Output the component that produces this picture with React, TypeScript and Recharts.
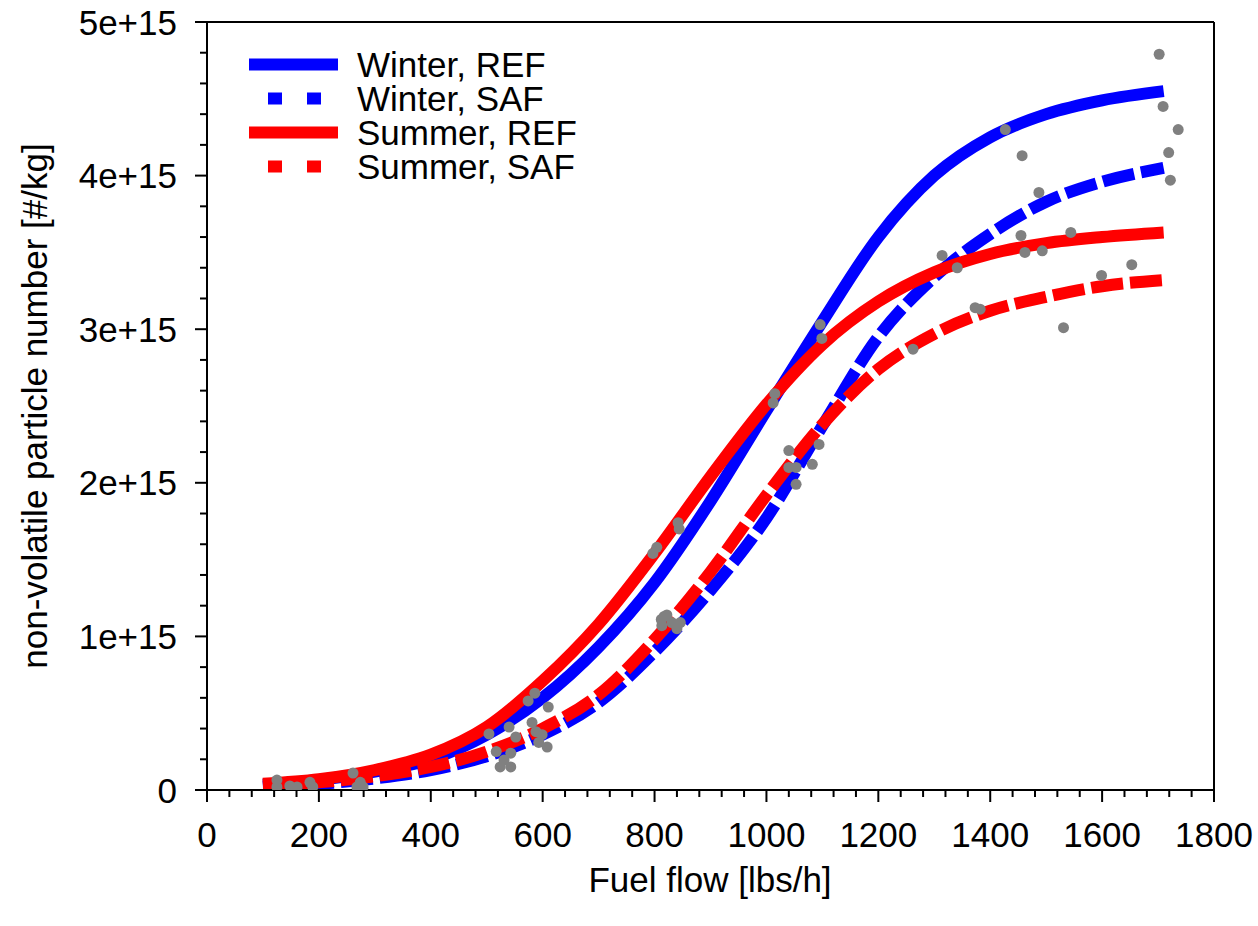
import React from 'react';
import { ComposedChart, Line, Scatter, XAxis, YAxis, ReferenceLine } from 'recharts';

const FONT = '"Liberation Sans", Arial, Helvetica, sans-serif';

// Fuel flow [lbs/h] at which the fitted curves are read
const fuelFlow = [100, 200, 300, 400, 500, 600, 700, 800, 900, 1000, 1100, 1200, 1300, 1400, 1500, 1600, 1710];
// nvPM number, units of 1e15 #/kg
const winterRef = [0.035, 0.065, 0.12, 0.2, 0.36, 0.6, 0.93, 1.35, 1.88, 2.47, 3.05, 3.6, 4.0, 4.25, 4.4, 4.49, 4.55];
const winterSaf = [0.02, 0.04, 0.075, 0.13, 0.22, 0.36, 0.57, 0.9, 1.3, 1.77, 2.37, 2.95, 3.34, 3.62, 3.83, 3.96, 4.05];
const summerRef = [0.04, 0.07, 0.13, 0.23, 0.41, 0.71, 1.08, 1.54, 2.04, 2.51, 2.9, 3.18, 3.37, 3.49, 3.56, 3.6, 3.63];
const summerSaf = [0.03, 0.05, 0.09, 0.15, 0.25, 0.4, 0.62, 0.98, 1.42, 1.92, 2.38, 2.74, 2.97, 3.12, 3.21, 3.28, 3.32];

// measured points
const measuredFlow = [
  125, 125, 148, 161, 184, 189, 261, 268, 274, 279,
  504, 540, 552, 517, 543, 524, 531, 543, 574, 586, 610, 581, 588, 599, 593, 608,
  797, 804, 842, 844, 812, 817, 822, 831, 840, 846, 813,
  1015, 1012, 1040, 1040, 1053, 1082, 1094, 1053, 1096, 1099,
  1262, 1314, 1341, 1373, 1382,
  1427, 1457, 1487, 1455, 1462, 1493, 1544, 1599, 1653, 1531,
  1702, 1709, 1736, 1719, 1722,
];
const measuredNvpm = [
  0.065, 0.02, 0.026, 0.02, 0.05, 0.02, 0.11, 0.02, 0.05, 0.02,
  0.365, 0.41, 0.345, 0.25, 0.24, 0.15, 0.195, 0.15, 0.58, 0.63, 0.54, 0.44, 0.38, 0.36, 0.31, 0.28,
  1.54, 1.58, 1.74, 1.7, 1.11, 1.13, 1.14, 1.09, 1.05, 1.09, 1.07,
  2.58, 2.52, 2.21, 2.1, 2.1, 2.12, 2.25, 1.99, 3.03, 2.94,
  2.87, 3.48, 3.4, 3.14, 3.13,
  4.3, 4.13, 3.89, 3.61, 3.5, 3.51, 3.63, 3.35, 3.42, 3.01,
  4.79, 4.45, 4.3, 4.15, 3.97,
];

const xMajorTicks = [0, 200, 400, 600, 800, 1000, 1200, 1400, 1600, 1800];
const yMajorTicks = [0, 1, 2, 3, 4, 5];
const yTickLabels = ['0', '1e+15', '2e+15', '3e+15', '4e+15', '5e+15'];
const xAxisTitle = 'Fuel flow [lbs/h]';
const yAxisTitle = 'non-volatile particle number [#/kg]';

const legendItems = [
  { name: 'Winter, REF', color: '#0000ff', dashed: false },
  { name: 'Winter, SAF', color: '#0000ff', dashed: true },
  { name: 'Summer, REF', color: '#ff0000', dashed: false },
  { name: 'Summer, SAF', color: '#ff0000', dashed: true },
];

const xTicks = Array.from({ length: 46 }, (_, i) => i * 40);
const yTicks = Array.from({ length: 26 }, (_, i) => Math.round(i * 2) / 10);

const curveData = fuelFlow.map((x, i) => ({
  x,
  winterRef: winterRef[i],
  winterSaf: winterSaf[i],
  summerRef: summerRef[i],
  summerSaf: summerSaf[i],
}));
const pointData = measuredFlow.map((x, i) => ({ x, y: measuredNvpm[i] }));

const XTick = (props: any) => {
  const { x, y, payload } = props;
  const v = payload.value;
  const major = xMajorTicks.includes(v);
  return (
    <g>
      <line x1={x} y1={y} x2={x} y2={y + (major ? 12 : 7)} stroke="#000" strokeWidth={2} />
      {major && (
        <text x={x} y={y + 57} textAnchor="middle" fontSize={35} fontFamily={FONT} fill="#000">
          {v}
        </text>
      )}
    </g>
  );
};

const YTick = (props: any) => {
  const { x, y, payload } = props;
  const v = payload.value;
  const idx = yMajorTicks.findIndex((m) => Math.abs(m - v) < 1e-6);
  const major = idx >= 0;
  return (
    <g>
      <line x1={x} y1={y} x2={x - (major ? 12 : 7)} y2={y} stroke="#000" strokeWidth={2} />
      {major && (
        <text x={x - 30} y={y + 12.5} textAnchor="end" fontSize={35} fontFamily={FONT} fill="#000">
          {yTickLabels[idx]}
        </text>
      )}
    </g>
  );
};

const Dot = (p: any) => <circle cx={p.cx} cy={p.cy} r={5.5} fill="#808080" />;

export default function App() {
  return (
    <div style={{ position: 'absolute', left: 0, top: 0, width: 1258, height: 926, background: '#fff' }}>
      <ComposedChart
        width={1258}
        height={926}
        data={curveData}
        margin={{ top: 22, right: 44, left: 0, bottom: 0 }}
      >
        <XAxis
          dataKey="x"
          type="number"
          domain={[0, 1800]}
          ticks={xTicks}
          interval={0}
          height={136}
          tickSize={0}
          tickMargin={0}
          tickLine={false}
          tick={<XTick />}
          axisLine={{ stroke: '#000', strokeWidth: 2 }}
          allowDataOverflow
        />
        <YAxis
          type="number"
          domain={[0, 5]}
          ticks={yTicks}
          interval={0}
          width={207}
          tickSize={0}
          tickMargin={0}
          tickLine={false}
          tick={<YTick />}
          axisLine={{ stroke: '#000', strokeWidth: 2 }}
          allowDataOverflow
        />
        <ReferenceLine y={5} stroke="#000" strokeWidth={2} />
        <ReferenceLine x={1800} stroke="#000" strokeWidth={2} />
        <Line dataKey="winterRef" type="monotone" stroke="#0000ff" strokeWidth={12} dot={false} isAnimationActive={false} />
        <Line dataKey="winterSaf" type="monotone" stroke="#0000ff" strokeWidth={12} strokeDasharray="32 7" dot={false} isAnimationActive={false} />
        <Line dataKey="summerRef" type="monotone" stroke="#ff0000" strokeWidth={12} dot={false} isAnimationActive={false} />
        <Line dataKey="summerSaf" type="monotone" stroke="#ff0000" strokeWidth={12} strokeDasharray="32 7" dot={false} isAnimationActive={false} />
        <Scatter data={pointData} dataKey="y" shape={<Dot />} isAnimationActive={false} />
      </ComposedChart>
      <svg
        width={1258}
        height={926}
        style={{ position: 'absolute', left: 0, top: 0, pointerEvents: 'none' }}
      >
        {legendItems.map((it, i) => {
          const cy = 64.5 + i * 34;
          return (
            <g key={it.name}>
              {it.dashed ? (
                <line x1={268} y1={cy} x2={321} y2={cy} stroke={it.color} strokeWidth={12} strokeDasharray="14 25" />
              ) : (
                <line x1={249} y1={cy} x2={338} y2={cy} stroke={it.color} strokeWidth={12} />
              )}
              <text x={357} y={cy + 12.5} fontSize={35} fontFamily={FONT} fill="#000">
                {it.name}
              </text>
            </g>
          );
        })}
        <text x={710} y={892} textAnchor="middle" fontSize={35} fontFamily={FONT} fill="#000">
          {xAxisTitle}
        </text>
        <text
          x={47}
          y={406}
          textAnchor="middle"
          fontSize={35}
          fontFamily={FONT}
          fill="#000"
          transform="rotate(-90 47 406)"
        >
          {yAxisTitle}
        </text>
      </svg>
    </div>
  );
}
